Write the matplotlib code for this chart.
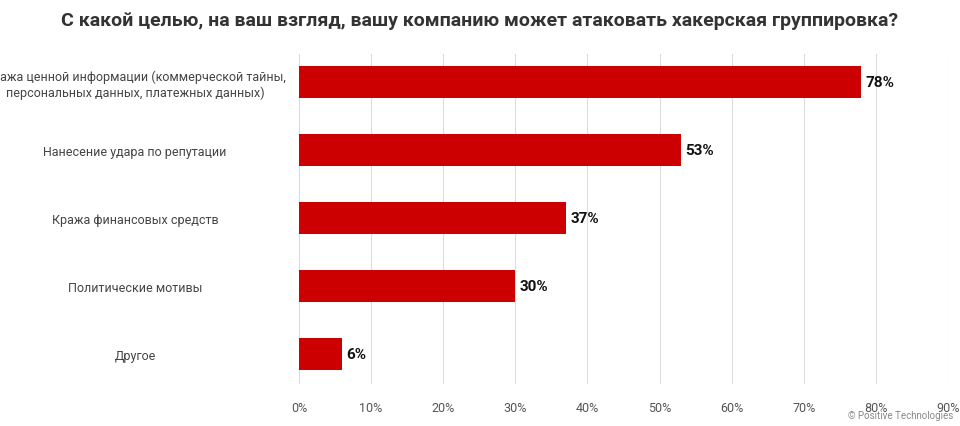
import matplotlib
matplotlib.use("Agg")
import matplotlib.pyplot as plt

plt.rcParams['font.family'] = ['Roboto', 'DejaVu Sans']

categories = ["Кража ценной информации (коммерческой тайны,\nперсональных данных, платежных данных)",
              "Нанесение удара по репутации",
              "Кража финансовых средств",
              "Политические мотивы",
              "Другое"]
values = [78, 53, 37, 30, 6]
ticks = [0, 10, 20, 30, 40, 50, 60, 70, 80, 90]
tick_labels = [f"{t}%" for t in ticks]

fig = plt.figure(figsize=(9.6, 4.27), dpi=100)
ax = fig.add_axes([299/960, 1-385/427, (948-299)/960, (385-55)/427])
y = list(range(len(categories)))[::-1]
ax.barh(y, values, height=0.47, color="#CC0000", zorder=3)
for yi, v in zip(y, values):
    ax.text(v + 0.6, yi, f"{v}%", va="center", ha="left", fontsize=11, fontweight="bold", color="#111")
ax.set_yticks(y)
ax.set_yticklabels(categories, fontsize=9, color="#444", ha="center")
ax.tick_params(axis='y', length=0, pad=118)
ax.set_xlim(0, 90)
ax.set_ylim(-0.44, 4.41)
ax.set_xticks(ticks)
ax.set_xticklabels(tick_labels, fontsize=9, color="#555")
ax.tick_params(axis='x', length=0, pad=12)
ax.grid(axis='x', color="#dddddd", linewidth=0.8, zorder=0)
for s in ax.spines.values():
    s.set_visible(False)
fig.text(0.5, 1-21/427, "С какой целью, на ваш взгляд, вашу компанию может атаковать хакерская группировка?",
         ha="center", va="center", fontsize=14, fontweight="bold", color="#333")
fig.text(0.993, 0.015, "© Positive Technologies", ha="right", va="bottom", fontsize=7, color="#888")
fig.savefig("out.png", dpi=100)
